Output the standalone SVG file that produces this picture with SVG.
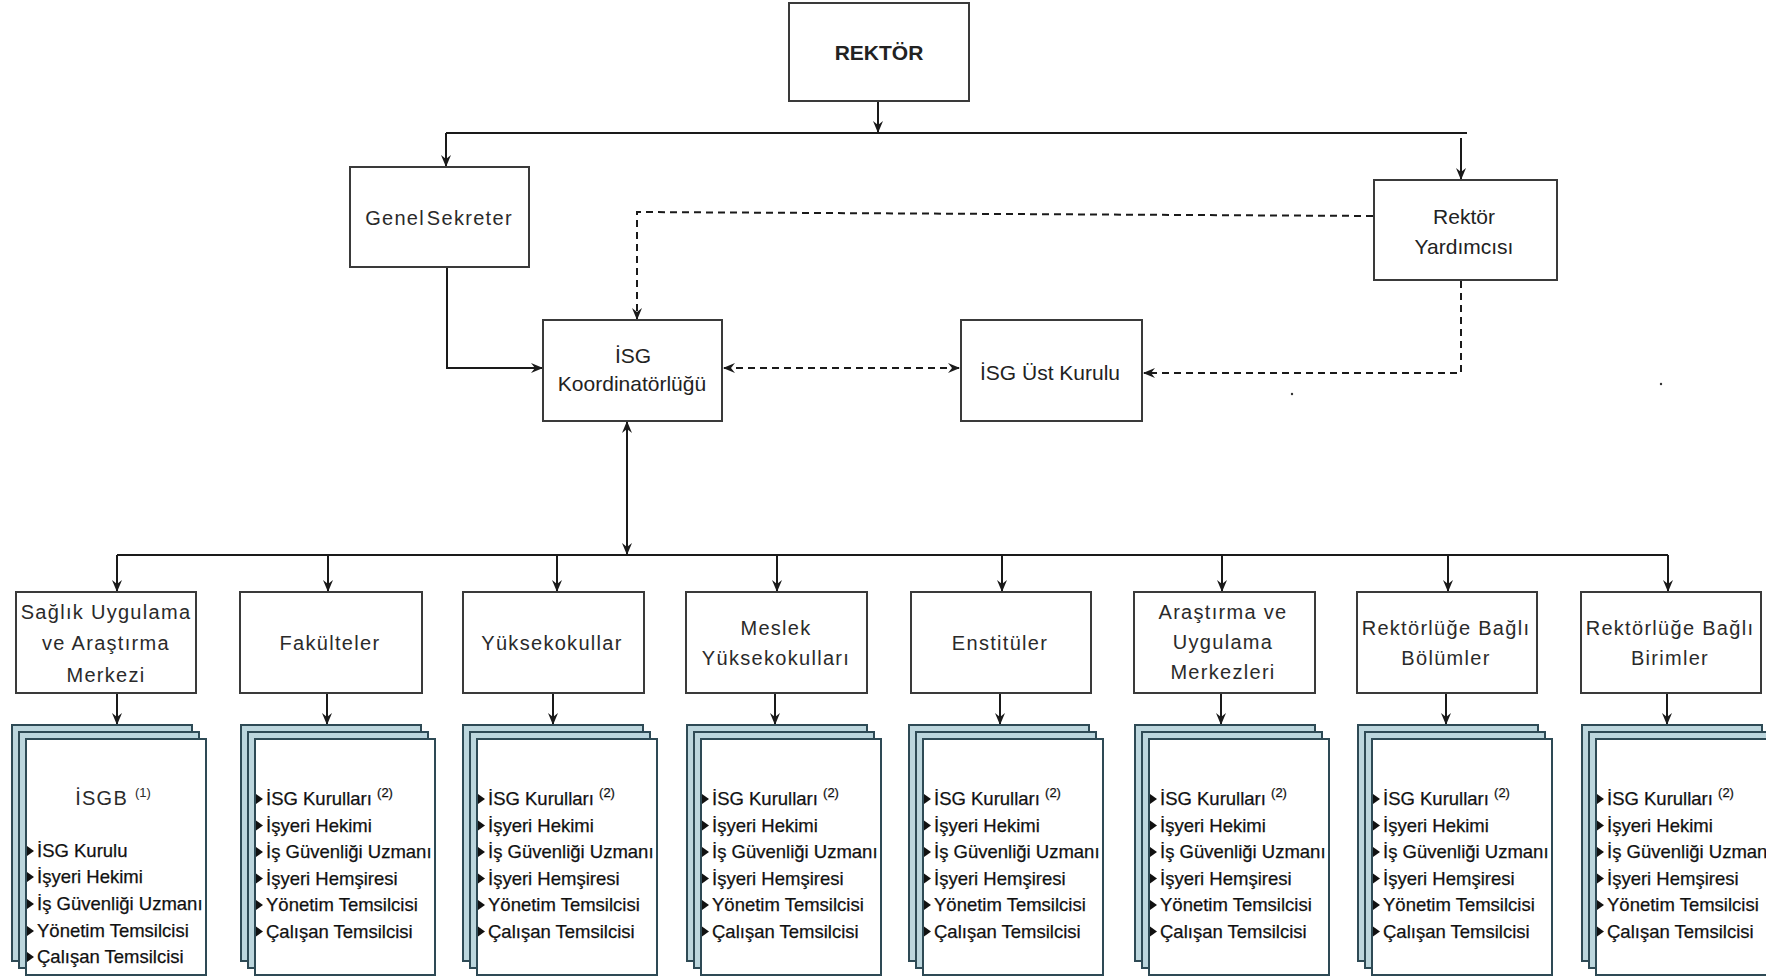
<svg xmlns="http://www.w3.org/2000/svg" xmlns:xlink="http://www.w3.org/1999/xlink" width="1766" height="979" viewBox="0 0 1766 979">
<style>
.box{fill:#fff;stroke:#3a3a3a;stroke-width:2}
.conn{stroke:#1a1a1a;stroke-width:2;fill:none}
.dash{stroke-dasharray:7 5}
.lbl{font-family:"Liberation Sans",Arial,sans-serif;font-size:20px;fill:#2a2a2a;text-anchor:middle;letter-spacing:1.3px}
.top{font-family:"Liberation Sans",Arial,sans-serif;font-size:21px;fill:#222;text-anchor:middle}
.lst{font-family:"Liberation Sans",Arial,sans-serif;font-size:18.5px;fill:#111;stroke:#111;stroke-width:0.25}
.sup{font-size:13px}
.back{fill:#bcd6dd;stroke:#2e4a55;stroke-width:2}
.front{fill:#fff;stroke:#2e4a55;stroke-width:2}
.bul{fill:#111;stroke:none}
</style>
<defs>
<marker id="ah" viewBox="0 0 12 10" refX="11" refY="5" markerWidth="12" markerHeight="10" orient="auto-start-reverse" markerUnits="userSpaceOnUse">
<path d="M0,0 L12,5 L0,10 L4,5 z" fill="#1a1a1a"/>
</marker>
<g id="stack">
<rect class="back" x="0" y="0" width="180" height="236"/>
<rect class="back" x="7" y="7" width="180" height="236"/>
<rect class="front" x="14" y="14" width="180" height="236"/>
</g>
<path id="bt" d="M0,-5 L7,0 L0,5 z"/>
<g id="list6" class="lst">
<use href="#bt" class="bul" x="1" y="-6"/><text x="11" y="0">İSG Kurulları <tspan class="sup" dy="-8">(2)</tspan></text>
<use href="#bt" class="bul" x="1" y="20.5"/><text x="11" y="26.5">İşyeri Hekimi</text>
<use href="#bt" class="bul" x="1" y="47"/><text x="11" y="53">İş Güvenliği Uzmanı</text>
<use href="#bt" class="bul" x="1" y="73.5"/><text x="11" y="79.5">İşyeri Hemşiresi</text>
<use href="#bt" class="bul" x="1" y="100"/><text x="11" y="106">Yönetim Temsilcisi</text>
<use href="#bt" class="bul" x="1" y="126.5"/><text x="11" y="132.5">Çalışan Temsilcisi</text>
</g>
</defs>
<rect width="1766" height="979" fill="#fff"/>

<g id="connectors">
<path class="conn" d="M878,101 V132" marker-end="url(#ah)"/>
<path class="conn" d="M446,133 H1467"/>
<path class="conn" d="M446,133 V166" marker-end="url(#ah)"/>
<path class="conn" d="M1461,138 V179" marker-end="url(#ah)"/>
<path class="conn" d="M447,267 V368 H542" marker-end="url(#ah)"/>
<path class="conn dash" d="M1373,216 L637,212 V319" marker-end="url(#ah)"/>
<path class="conn dash" d="M724,368 H959" marker-start="url(#ah)" marker-end="url(#ah)"/>
<path class="conn dash" d="M1461,281 V373 H1144" marker-end="url(#ah)"/>
<path class="conn" d="M627,422 V554" marker-start="url(#ah)" marker-end="url(#ah)"/>
<path class="conn" d="M117,555 H1668"/>
<path class="conn" d="M117,555 V591" marker-end="url(#ah)"/>
<path class="conn" d="M328,555 V591" marker-end="url(#ah)"/>
<path class="conn" d="M557,555 V591" marker-end="url(#ah)"/>
<path class="conn" d="M777,555 V591" marker-end="url(#ah)"/>
<path class="conn" d="M1002,555 V591" marker-end="url(#ah)"/>
<path class="conn" d="M1222,555 V591" marker-end="url(#ah)"/>
<path class="conn" d="M1448,555 V591" marker-end="url(#ah)"/>
<path class="conn" d="M1668,555 V591" marker-end="url(#ah)"/>
<path class="conn" d="M117,693 V724" marker-end="url(#ah)"/>
<path class="conn" d="M327,693 V724" marker-end="url(#ah)"/>
<path class="conn" d="M553,693 V724" marker-end="url(#ah)"/>
<path class="conn" d="M775,693 V724" marker-end="url(#ah)"/>
<path class="conn" d="M1000,693 V724" marker-end="url(#ah)"/>
<path class="conn" d="M1221,693 V724" marker-end="url(#ah)"/>
<path class="conn" d="M1446,693 V724" marker-end="url(#ah)"/>
<path class="conn" d="M1667,693 V724" marker-end="url(#ah)"/>
</g>

<g id="rektor">
<rect class="box" x="789" y="3" width="180" height="98"/>
<text class="top" x="879" y="60" font-weight="bold" font-size="23px">REKTÖR</text>
</g>
<g id="genel-sekreter">
<rect class="box" x="350" y="167" width="179" height="100"/>
<text class="lbl" x="439" y="225" word-spacing="-5" letter-spacing="1.8">Genel Sekreter</text>
</g>
<g id="rektor-yardimcisi">
<rect class="box" x="1374" y="180" width="183" height="100"/>
<text class="top" x="1464" y="224">Rektör</text>
<text class="top" x="1464" y="254">Yardımcısı</text>
</g>
<g id="isg-koordinatorlugu">
<rect class="box" x="543" y="320" width="179" height="101"/>
<text class="top" x="633" y="363" font-size="24px">İSG</text>
<text class="top" x="632" y="391" font-size="22.5px">Koordinatörlüğü</text>
</g>
<g id="isg-ust-kurulu">
<rect class="box" x="961" y="320" width="181" height="101"/>
<text class="top" x="1050" y="380" font-size="23px">İSG Üst Kurulu</text>
</g>
<circle cx="1292" cy="394" r="1.2" fill="#333"/>
<circle cx="1661" cy="384" r="1.2" fill="#333"/>

<g id="saglik">
<rect class="box" x="16" y="592" width="180" height="101"/>
<text class="lbl" x="106" y="619">Sağlık Uygulama</text>
<text class="lbl" x="106" y="650">ve Araştırma</text>
<text class="lbl" x="106" y="682">Merkezi</text>
</g>
<g id="fakulteler">
<rect class="box" x="240" y="592" width="182" height="101"/>
<text class="lbl" x="330" y="650" letter-spacing="2">Fakülteler</text>
</g>
<g id="yuksekokullar">
<rect class="box" x="463" y="592" width="181" height="101"/>
<text class="lbl" x="552" y="650">Yüksekokullar</text>
</g>
<g id="meslek">
<rect class="box" x="686" y="592" width="181" height="101"/>
<text class="lbl" x="776" y="635">Meslek</text>
<text class="lbl" x="776" y="665">Yüksekokulları</text>
</g>
<g id="enstituler">
<rect class="box" x="911" y="592" width="180" height="101"/>
<text class="lbl" x="1000" y="650">Enstitüler</text>
</g>
<g id="arastirma">
<rect class="box" x="1134" y="592" width="181" height="101"/>
<text class="lbl" x="1223" y="619">Araştırma ve</text>
<text class="lbl" x="1223" y="649">Uygulama</text>
<text class="lbl" x="1223" y="679">Merkezleri</text>
</g>
<g id="bolumler">
<rect class="box" x="1357" y="592" width="180" height="101"/>
<text class="lbl" x="1446" y="635">Rektörlüğe Bağlı</text>
<text class="lbl" x="1446" y="665">Bölümler</text>
</g>
<g id="birimler">
<rect class="box" x="1581" y="592" width="180" height="101"/>
<text class="lbl" x="1670" y="635">Rektörlüğe Bağlı</text>
<text class="lbl" x="1670" y="665">Birimler</text>
</g>

<g id="doc-saglik">
<use href="#stack" x="12" y="725"/>
<text class="lbl" x="113" y="805">İSGB <tspan class="sup" dy="-8" letter-spacing="0">(1)</tspan></text>
<g class="lst">
<use href="#bt" class="bul" x="27" y="851"/><text x="37" y="857">İSG Kurulu</text>
<use href="#bt" class="bul" x="27" y="877"/><text x="37" y="883">İşyeri Hekimi</text>
<use href="#bt" class="bul" x="27" y="904"/><text x="37" y="910">İş Güvenliği Uzmanı</text>
<use href="#bt" class="bul" x="27" y="931"/><text x="37" y="937">Yönetim Temsilcisi</text>
<use href="#bt" class="bul" x="27" y="957"/><text x="37" y="963">Çalışan Temsilcisi</text>
</g>
</g>
<g id="doc-fakulteler">
<use href="#stack" x="241" y="725"/>
<use href="#list6" x="255" y="805"/>
</g>
<g id="doc-yuksekokullar">
<use href="#stack" x="463" y="725"/>
<use href="#list6" x="477" y="805"/>
</g>
<g id="doc-meslek">
<use href="#stack" x="687" y="725"/>
<use href="#list6" x="701" y="805"/>
</g>
<g id="doc-enstituler">
<use href="#stack" x="909" y="725"/>
<use href="#list6" x="923" y="805"/>
</g>
<g id="doc-arastirma">
<use href="#stack" x="1135" y="725"/>
<use href="#list6" x="1149" y="805"/>
</g>
<g id="doc-bolumler">
<use href="#stack" x="1358" y="725"/>
<use href="#list6" x="1372" y="805"/>
</g>
<g id="doc-birimler">
<use href="#stack" x="1582" y="725"/>
<use href="#list6" x="1596" y="805"/>
</g>
</svg>
